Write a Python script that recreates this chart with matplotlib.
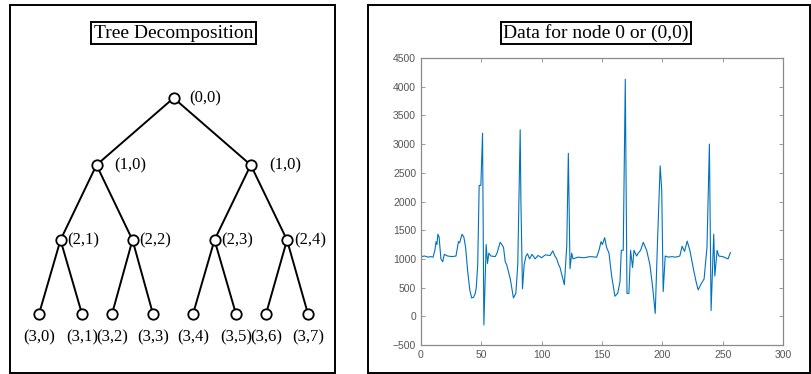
import matplotlib
matplotlib.use('Agg')
import matplotlib.pyplot as plt
from matplotlib.patches import Rectangle

# 字体
plt.rcParams['font.family'] = ['Liberation Serif', 'DejaVu Serif']

# 树的数据：叶子节点位置（像素）和每层的高度
leaf_x = [39, 82, 112, 153, 193, 236, 266, 308]
level_y = [98, 165, 240, 314]
labels = [['(0,0)'],
          ['(1,0)', '(1,0)'],
          ['(2,1)', '(2,2)', '(2,3)', '(2,4)'],
          ['(3,0)', '(3,1)', '(3,2)', '(3,3)', '(3,4)', '(3,5)', '(3,6)', '(3,7)']]
label_dx = [16, 18, 7, 0]

# 节点 0 的数据（从图中读取的折线顶点）
sig_x = [0, 3, 6, 8, 10, 11.5, 12.5, 13.2, 14, 15, 16.5, 18, 19.3, 22, 26, 29,
         31, 32, 34, 35.5, 37, 38.6, 40.5, 42, 43.5, 45, 45.8, 47, 48.2, 49.6, 51,
         52.1, 54, 55.1, 56.2, 58, 61.5, 63, 65.6, 67, 68.4, 69.8, 71, 74, 76.6,
         78.6, 80.2, 82.2, 82.8, 84.1, 85.5, 87, 88.2, 90, 92, 94.6, 97, 100, 103,
         107, 109.2, 111, 112.5, 114, 115.2, 117, 118.8, 120.8, 122.1, 123.5,
         124.9, 126, 130, 135, 140, 145.6, 147.5, 149.2, 150.3, 152.2, 153.8,
         155.8, 158, 160.7, 163, 164.9, 166, 167.6, 169.3, 170.7, 172.3, 173.7,
         175.3, 176.5, 178.7, 180, 182, 184.2, 187, 189.7, 192, 194.1, 196,
         198.2, 199.5, 200.7, 202.4, 205, 208, 211, 214.5, 216.4, 218.4, 220.6,
         222.8, 226, 228, 229.7, 232, 234.6, 237, 239, 240.4, 242.6, 243.5,
         245.4, 246.8, 250, 254.5, 256.4]
sig_y = [1040, 1050, 1030, 1040, 1030, 1150, 1300, 1250, 1430, 1380, 1000, 950,
         1080, 1050, 1040, 1050, 1300, 1280, 1430, 1380, 1200, 800, 450, 320, 330,
         400, 500, 900, 2280, 2280, 3190, -150, 1250, 920, 1100, 1050, 1040, 1100,
         1290, 1250, 1200, 950, 900, 650, 320, 400, 900, 3250, 2000, 480, 900, 1050,
         1090, 1000, 1080, 1000, 1060, 1020, 1070, 1060, 1140, 1050, 1000, 900, 850,
         700, 550, 1230, 2840, 830, 1100, 1000, 1030, 1020, 1040, 1030, 1150, 1300,
         1250, 1370, 1200, 1100, 700, 350, 400, 600, 1150, 1150, 4130, 400, 400,
         1150, 850, 1150, 1050, 1100, 1150, 1290, 1150, 900, 500, 50, 1300, 2620,
         2200, 430, 1050, 1030, 1040, 1030, 1050, 1220, 1130, 1310, 1150, 800, 600,
         460, 560, 650, 1200, 3000, 100, 1430, 700, 1150, 1050, 1040, 1000, 1110]

fig = plt.figure(figsize=(8.11, 3.74), dpi=100)

# 背景层：像素坐标，用来画边框和树
bg = fig.add_axes([0, 0, 1, 1])
bg.set_xlim(0, 811)
bg.set_ylim(374, 0)
bg.axis('off')

bg.add_patch(Rectangle((10, 5), 325, 368, fill=False, edgecolor='black', linewidth=1.4))
bg.add_patch(Rectangle((368, 5), 442, 368, fill=False, edgecolor='black', linewidth=1.4))

title_box = dict(boxstyle='square,pad=0.12', facecolor='white', edgecolor='black', linewidth=1.4)
bg.text(173.5, 33, 'Tree Decomposition', fontsize=14, ha='center', va='center', bbox=title_box)
bg.text(596, 33, 'Data for node 0 or (0,0)', fontsize=14, ha='center', va='center', bbox=title_box)

# 由叶子节点往上算出每层节点位置（父节点取两个孩子的中点）
node_x = [leaf_x]
while len(node_x[0]) > 1:
    child = node_x[0]
    node_x.insert(0, [(child[2 * i] + child[2 * i + 1]) / 2 for i in range(len(child) // 2)])

for lvl in range(len(node_x) - 1):
    for i, px in enumerate(node_x[lvl]):
        for c in (2 * i, 2 * i + 1):
            bg.plot([px, node_x[lvl + 1][c]], [level_y[lvl], level_y[lvl + 1]],
                    color='black', linewidth=1.4, zorder=1)

for lvl, xs in enumerate(node_x):
    bg.plot(xs, [level_y[lvl]] * len(xs), linestyle='none', marker='o', markersize=7.5,
            markerfacecolor='white', markeredgecolor='black', markeredgewidth=1.3, zorder=2)
    for i, px in enumerate(xs):
        if lvl == len(node_x) - 1:
            bg.text(px, level_y[lvl] + 23, labels[lvl][i], fontsize=12, ha='center', va='center')
        else:
            bg.text(px + label_dx[lvl], level_y[lvl], labels[lvl][i], fontsize=12,
                    ha='left', va='center')

# 右边的数据图（MATLAB 风格）
ax = fig.add_axes([421 / 811, 29 / 374, 362 / 811, 287 / 374])
ax.plot(sig_x, sig_y, color='#0072BD', linewidth=0.8)
ax.set_xlim(0, 300)
ax.set_ylim(-500, 4500)
ax.set_xticks(range(0, 301, 50))
ax.set_yticks(range(-500, 4501, 500))
for s in ax.spines.values():
    s.set_color('#8a8a8a')
    s.set_linewidth(0.9)
ax.tick_params(direction='in', length=3, width=0.6, color='#8a8a8a', labelcolor='#555555',
               labelsize=7.5, top=True, right=True)
for lab in ax.get_xticklabels() + ax.get_yticklabels():
    lab.set_family(['Liberation Sans', 'DejaVu Sans'])

fig.savefig('out.png', dpi=100)
